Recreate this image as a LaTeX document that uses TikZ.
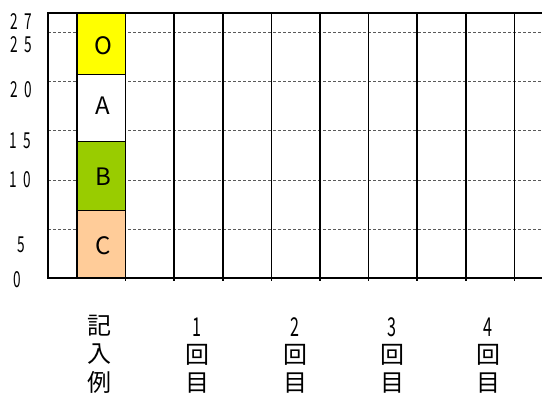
\documentclass[tikz,border=0pt]{standalone}
\usepackage{fontspec}
\setmainfont{Noto Sans CJK JP}
\usepackage{graphicx}
\usepackage{xcolor}
\usepackage{tikz}

\definecolor{markO}{HTML}{FFFF00}
\definecolor{markB}{HTML}{99CC00}
\definecolor{markC}{HTML}{FFCC99}
\newcommand{\narrow}[1]{\scalebox{0.62}[1]{#1}}

\begin{document}
\begin{tikzpicture}[x=1pt, y=-1pt, line join=miter,
    gridline/.style={densely dashed, line width=0.6pt, gray!70!black},
    colline/.style={line width=1.5pt},
    seg/.style={draw, line width=1pt},
    axnum/.style={font=\fontsize{22}{22}\selectfont, inner sep=0pt},
    cjk/.style={font=\fontsize{24}{24}\selectfont, inner sep=0pt},
    colnum/.style={font=\fontsize{26}{26}\selectfont, inner sep=0pt},
    barlabel/.style={font=\fontsize{24}{24}\selectfont, inner sep=0pt},
    node distance=28pt]
        \useasboundingbox (0,0) rectangle (542,396);

        % dashed scale lines
        \draw [gridline] (48,32.7) -- (542,32.7);
        \draw [gridline] (48,81.8) -- (542,81.8);
        \draw [gridline] (48,130.8) -- (542,130.8);
        \draw [gridline] (48,179.9) -- (542,179.9);
        \draw [gridline] (48,228.9) -- (542,228.9);

        % example bar
        \path [fill=markC, seg] (77,278) rectangle (125,211);
        \path [fill=markB, seg] (77,211) rectangle (125,142);
        \path [fill=white, seg] (77,142) rectangle (125,75);
        \path [fill=markO, seg] (77,75) rectangle (125,13);
        \node [barlabel] (o) at (103,46) {O};
        \node [barlabel] (a) at (103,106) {A};
        \node [barlabel] (b) at (103,177) {B};
        \node [barlabel] (c) at (103,246) {C};

        % columns
        \draw [colline] (77,13) -- (77,278);
        \draw [colline] (125.6,13) -- (125.6,281);
        \draw [colline] (174.2,13) -- (174.2,281);
        \draw [colline] (222.8,13) -- (222.8,281);
        \draw [colline] (271.4,13) -- (271.4,281);
        \draw [colline] (320,13) -- (320,281);
        \draw [colline] (368.6,13) -- (368.6,281);
        \draw [colline] (417.2,13) -- (417.2,281);
        \draw [colline] (465.8,13) -- (465.8,281);
        \draw [colline] (514.4,13) -- (514.4,281);
        \draw [colline] (542,13) -- (48,13) -- (48,278) -- (542,278);

        % scale
        \node [axnum] (v27) at (21,22) {\narrow{2\hspace{0.5em}7}};
        \node [axnum] (v25) at (21,44.5) {\narrow{2\hspace{0.5em}5}};
        \node [axnum] (v20) at (21,90) {\narrow{2\hspace{0.5em}0}};
        \node [axnum] (v15) at (20,141) {\narrow{1\hspace{0.5em}5}};
        \node [axnum] (v10) at (20,180) {\narrow{1\hspace{0.5em}0}};
        \node [axnum] (v5) at (21,244.5) {\narrow{5}};
        \node [axnum] (v0) at (17.5,280) {\narrow{0}};

        % column titles
        \node [cjk] (ki) at (100,326) {記};
        \node [cjk, below of=ki] (nyu) {入};
        \node [cjk, below of=nyu] (rei) {例};

        \node [colnum] (n1) at (197,327) {\narrow{1}};
        \node [cjk, below of=n1] (kai1) {回};
        \node [cjk, below of=kai1] (me1) {目};

        \node [colnum] (n2) at (295,327) {\narrow{2}};
        \node [cjk, below of=n2] (kai2) {回};
        \node [cjk, below of=kai2] (me2) {目};

        \node [colnum] (n3) at (392,327) {\narrow{3}};
        \node [cjk, below of=n3] (kai3) {回};
        \node [cjk, below of=kai3] (me3) {目};

        \node [colnum] (n4) at (488,327) {\narrow{4}};
        \node [cjk, below of=n4] (kai4) {回};
        \node [cjk, below of=kai4] (me4) {目};
\end{tikzpicture}
\end{document}
